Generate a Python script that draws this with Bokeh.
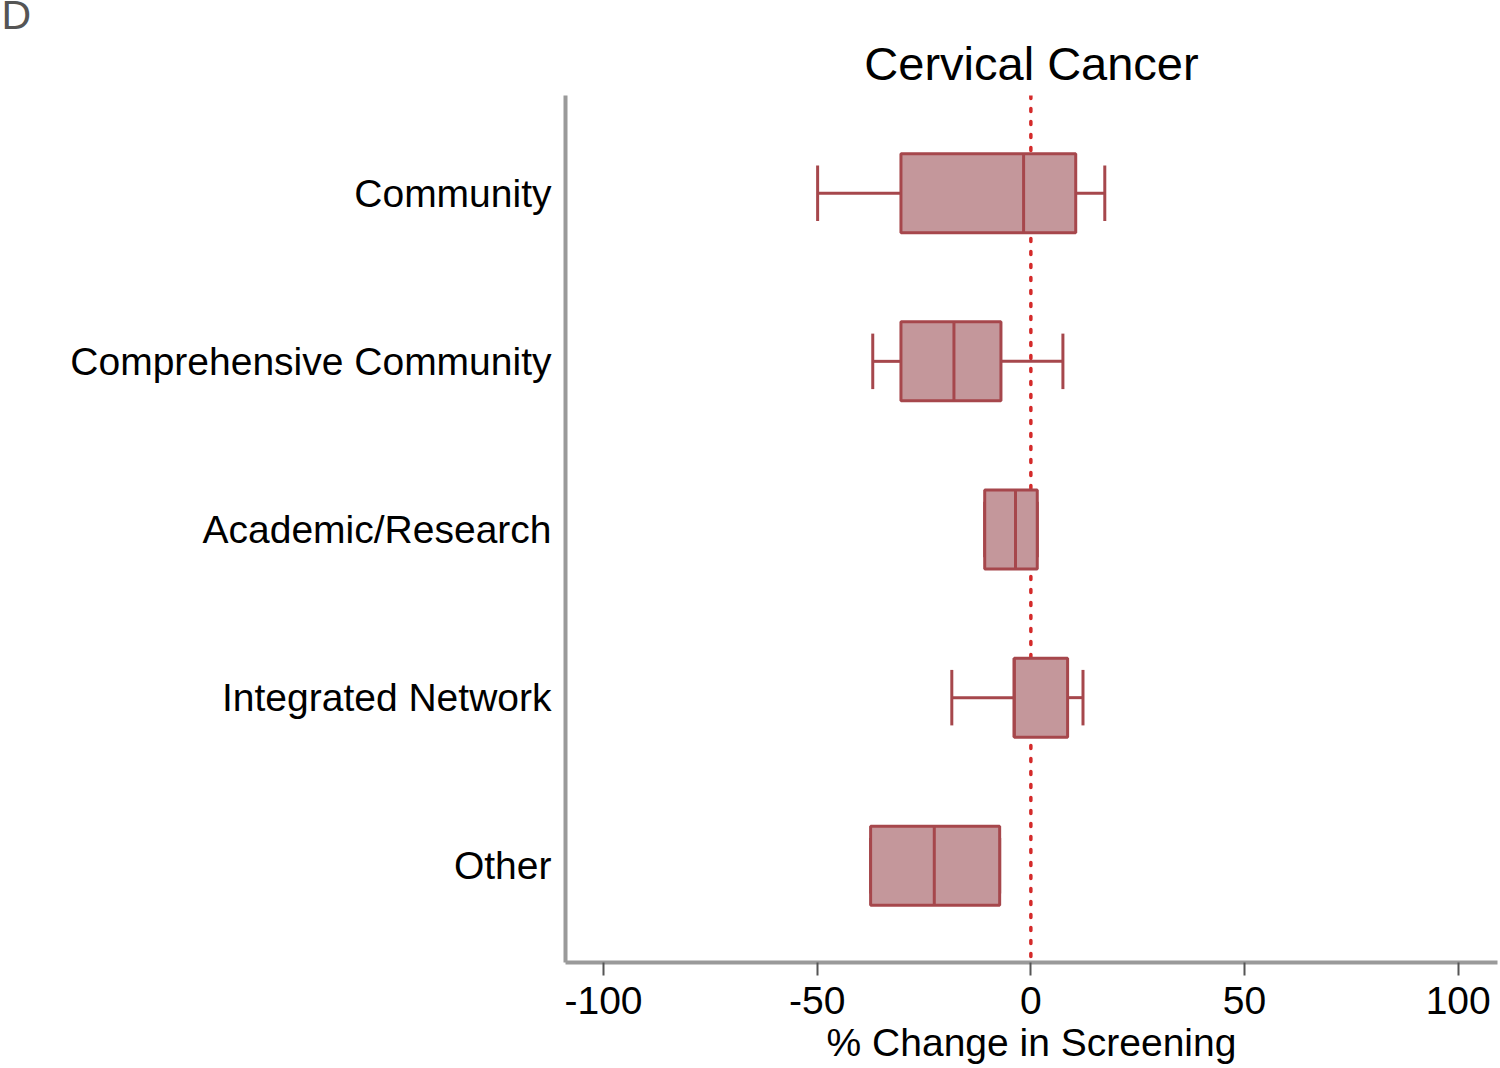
import numpy as np
from bokeh.plotting import figure
from bokeh.models import ColumnDataSource, Range1d, FixedTicker, Span, Label
from bokeh.embed import file_html
from bokeh.resources import INLINE

# ---- data ----
categories = ["Community", "Comprehensive Community", "Academic/Research",
              "Integrated Network", "Other"]
whisker_low = [-49.9, -37.0, -10.8, -18.5, -37.5]
q1 = [-30.4, -30.4, -10.8, -3.9, -37.5]
median = [-1.7, -18.0, -3.6, -3.9, -22.6]
q3 = [10.5, -7.0, 1.5, 8.6, -7.3]
whisker_high = [17.3, 7.5, 1.5, 12.2, -7.3]
x_ticks = [-100, -50, 0, 50, 100]
x_tick_labels = ["-100", "-50", "0", "50", "100"]

FONT = "Liberation Sans"
FILL = "#c4979b"
EDGE = "#a6474c"
TEXT = "#000000"
BOX_H = 0.47
CAP_H = 0.33

ypos = np.arange(len(categories), dtype=float)
src = ColumnDataSource(dict(
    y=ypos,
    lo=whisker_low, q1=q1, med=median, q3=q3, hi=whisker_high,
    y_box0=ypos - BOX_H / 2, y_box1=ypos + BOX_H / 2,
    y_cap0=ypos - CAP_H / 2, y_cap1=ypos + CAP_H / 2,
))

p = figure(width=1498, height=1066, output_backend="svg", toolbar_location=None,
           x_range=Range1d(-108.9, 109.2), y_range=Range1d(4.575, -0.581),
           title="Cervical Cancer",
           min_border_left=565, min_border_right=1, min_border_top=95,
           min_border_bottom=101)
p.outline_line_color = None
p.xgrid.visible = False
p.ygrid.visible = False
p.background_fill_color = "white"
p.border_fill_color = "white"

p.title.align = "center"
p.title.text_font = FONT
p.title.text_font_size = "47px"
p.title.text_font_style = "normal"
p.title.text_color = TEXT
p.title.standoff = 12

# zero reference line, beneath the boxes
zero = Span(location=0, dimension="height", line_color="#d42a2a",
            line_width=3.5, line_dash="3 10", line_cap="round", level="underlay")
p.add_layout(zero)

# whiskers
p.segment(x0="lo", y0="y", x1="q1", y1="y", source=src, line_color=EDGE, line_width=3)
p.segment(x0="q3", y0="y", x1="hi", y1="y", source=src, line_color=EDGE, line_width=3)
p.segment(x0="lo", y0="y_cap0", x1="lo", y1="y_cap1", source=src, line_color=EDGE, line_width=3)
p.segment(x0="hi", y0="y_cap0", x1="hi", y1="y_cap1", source=src, line_color=EDGE, line_width=3)
# boxes
p.hbar(y="y", left="q1", right="q3", height=BOX_H, source=src,
       fill_color=FILL, line_color=EDGE, line_width=3)
# medians
p.segment(x0="med", y0="y_box0", x1="med", y1="y_box1", source=src,
          line_color=EDGE, line_width=3)

# x axis
xa = p.xaxis[0]
xa.ticker = FixedTicker(ticks=x_ticks)
xa.major_label_overrides = {t: l for t, l in zip(x_ticks, x_tick_labels)}
xa.minor_tick_line_color = None
xa.axis_line_color = "#9a9a9a"
xa.axis_line_width = 4
xa.major_tick_line_color = "#555555"
xa.major_tick_line_width = 2
xa.major_tick_out = 13
xa.major_tick_in = 0
xa.major_label_standoff = 11
xa.major_label_text_font = FONT
xa.major_label_text_font_size = "39px"
xa.major_label_text_color = TEXT
xa.axis_label = "% Change in Screening"
xa.axis_label_text_font = FONT
xa.axis_label_text_font_size = "39px"
xa.axis_label_text_font_style = "normal"
xa.axis_label_text_color = TEXT
xa.axis_label_standoff = 4

# y axis
ya = p.yaxis[0]
ya.ticker = FixedTicker(ticks=list(ypos))
ya.major_label_overrides = {float(i): c for i, c in enumerate(categories)}
ya.major_label_overrides.update({int(i): c for i, c in enumerate(categories)})
ya.minor_tick_line_color = None
ya.major_tick_line_color = None
ya.major_tick_out = 0
ya.major_tick_in = 0
ya.axis_line_color = "#9a9a9a"
ya.axis_line_width = 4
ya.major_label_standoff = 14
ya.major_label_text_font = FONT
ya.major_label_text_font_size = "39px"
ya.major_label_text_color = TEXT

# panel letter, top-left corner (partly cut off) - placed in the left side panel
p.add_layout(Label(x=-36, y=948, x_units="screen", y_units="screen", text="D",
                   text_font=FONT, text_font_size="41px", text_color="#555555",
                   text_baseline="alphabetic"),
             "left")

open("out.html", "w").write(file_html(p, INLINE))
